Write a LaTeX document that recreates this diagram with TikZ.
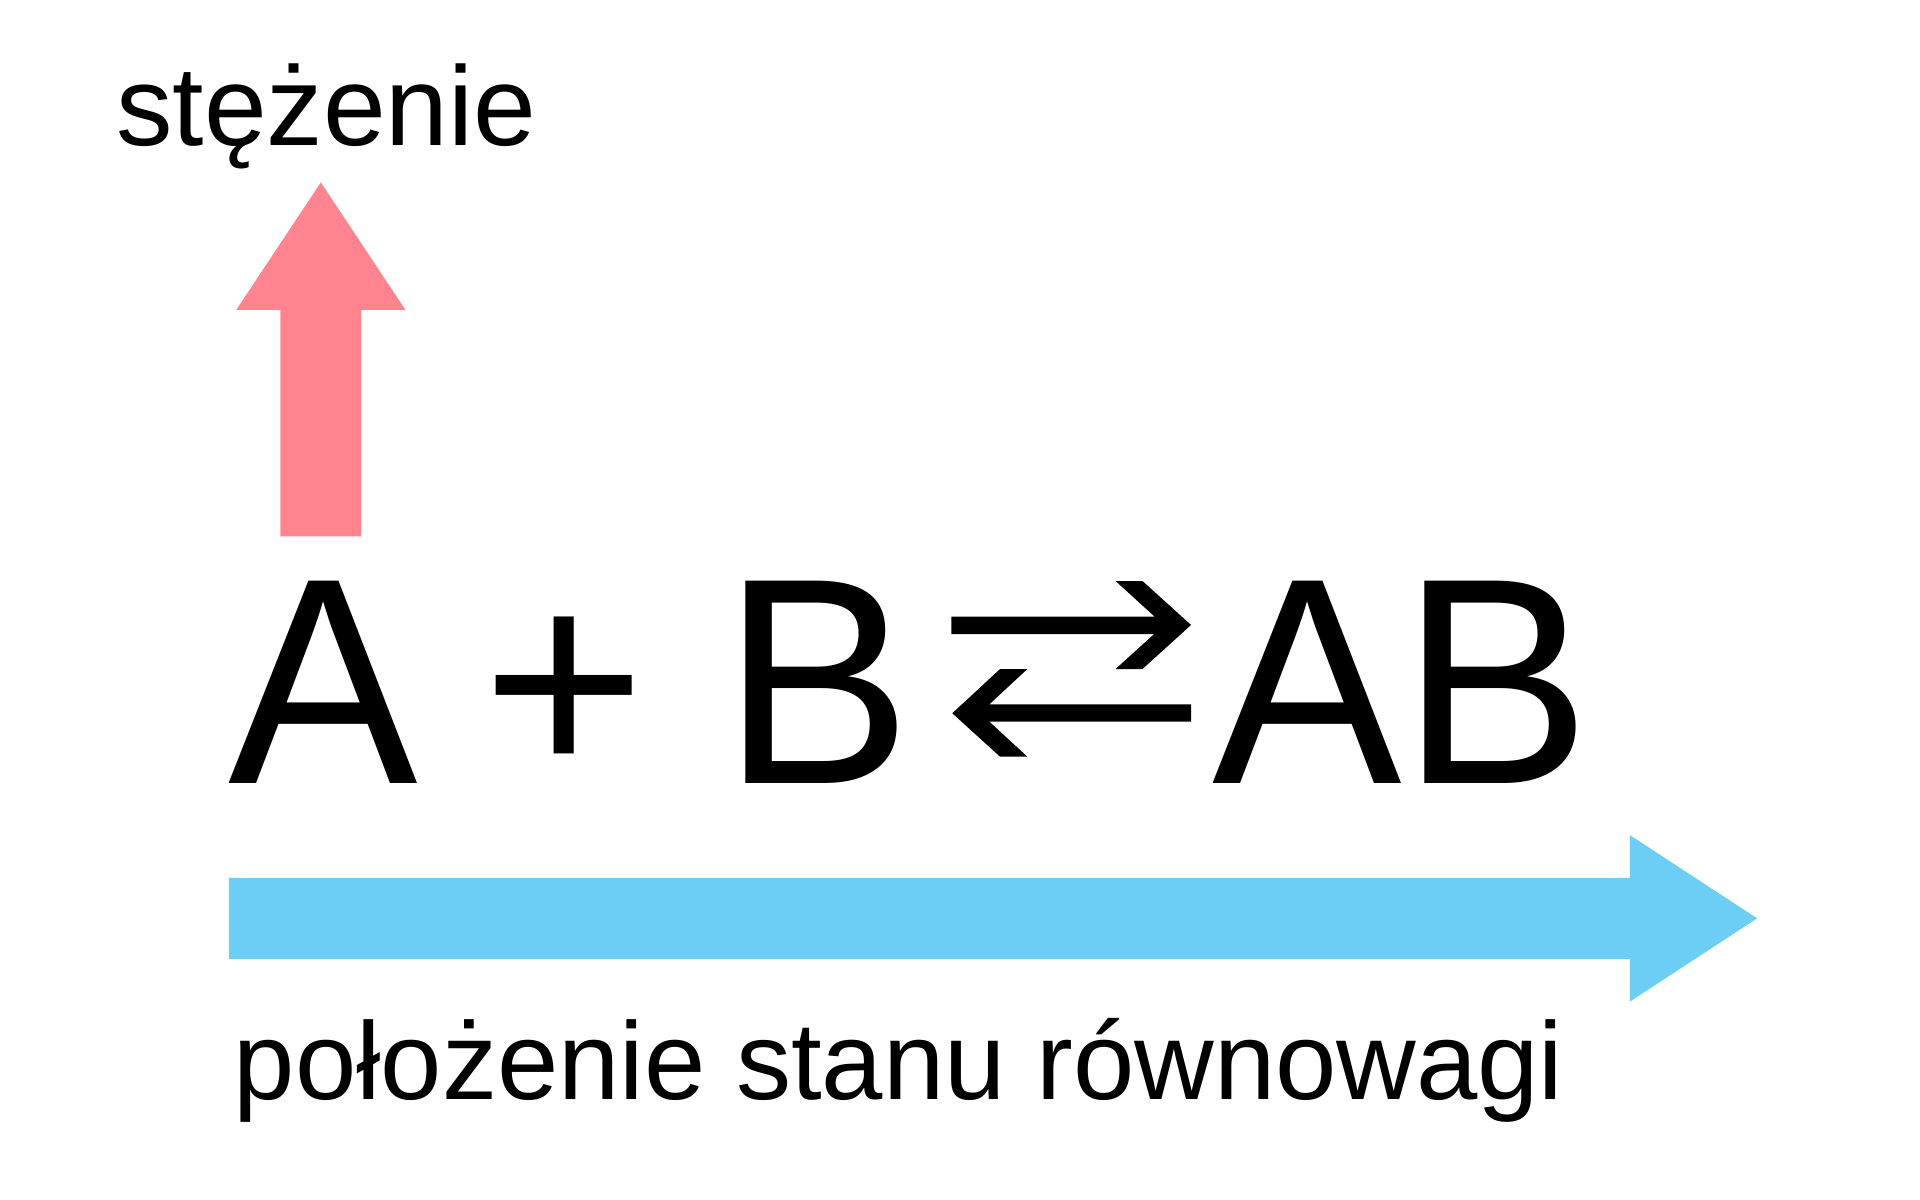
\documentclass[tikz,border=0pt]{standalone}
\usepackage{fontspec}
\setmainfont{Liberation Sans}
\definecolor{pinkarrow}{HTML}{FF8490}
\definecolor{bluearrow}{HTML}{6DCEF5}
\newcommand{\tallbox}[1]{\scalebox{1}[1.035]{#1}}
\begin{document}
\begin{tikzpicture}[x=0.01cm,y=-0.01cm,
  lbl/.style={anchor=base west,inner sep=0pt,outer sep=0pt,font=\fontsize{25.6}{30}\selectfont},
  big/.style={anchor=base west,inner sep=0pt,outer sep=0pt,font=\fontsize{66}{70}\selectfont}]
\useasboundingbox[fill=white] (0,0) rectangle (1568,980);
% pink arrow
\fill[pinkarrow] (229,438) -- (229,253) -- (193,253) -- (262,149) -- (331,253) -- (295,253) -- (295,438) -- cycle;
\node[lbl,font=\fontsize{26.2}{30}\selectfont] (conc) at (95,119) {stężenie};
% equation
\node[big] (A) at (187,640) {\tallbox{A}};
\node[big,font=\fontsize{65}{70}\selectfont] (plus) at (394,635.5) {+};
\node[big] (B) at (590,640) {\tallbox{B}};
\node[big] (AB) at (990,640) {\tallbox{AB}};
% equilibrium arrows
\fill[black] (777,503.6) -- (943,503.6) -- (911,474.5) -- (933,474.5) -- (972.7,510.4) -- (933,546.4) -- (911,546.4) -- (942.6,517.8) -- (777,517.8) -- cycle;
\fill[black] (972.7,575.2) -- (808,575.2) -- (839,546.4) -- (816.7,546.4) -- (777.7,582.5) -- (816.7,618) -- (839,618) -- (808,589.4) -- (972.7,589.4) -- cycle;
% blue arrow
\fill[bluearrow] (187,717) -- (1331,717) -- (1331,682) -- (1435,750) -- (1331,818) -- (1331,783) -- (187,783) -- cycle;
\node[lbl] (pos) at (191,898) {położenie stanu równowagi};
\end{tikzpicture}
\end{document}
